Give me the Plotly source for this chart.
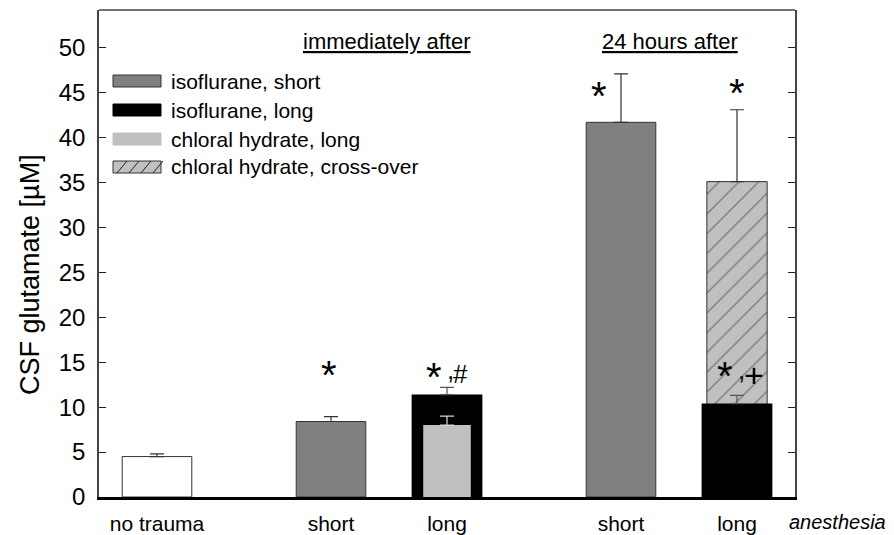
import plotly.graph_objects as go

# ---- data ----
categories = ["no trauma", "short", "long", "short", "long"]
group_labels = ["immediately after", "24 hours after"]

no_trauma_val = [4.5]
no_trauma_err = [0.3]

iso_short_cats = ["immediate short", "24h short"]
iso_short_val = [8.4, 41.7]
iso_short_err = [0.55, 5.4]

iso_long_cats = ["immediate long", "24h long"]
iso_long_val = [11.4, 10.4]
iso_long_err = [0.8, 0.9]

chl_long_cats = ["immediate long"]
chl_long_val = [8.0]
chl_long_err = [1.0]

chl_cross_cats = ["24h long"]
chl_cross_val = [35.1]
chl_cross_err = [8.0]

series_names = ["isoflurane, short", "isoflurane, long",
                "chloral hydrate, long", "chloral hydrate, cross-over"]

# ---- layout helpers (slot positions on a numeric x axis) ----
slot = {"no trauma": 0.0, "immediate short": 1.5, "immediate long": 2.5,
        "24h short": 4.0, "24h long": 5.0}
tick_slots = [0.0, 1.5, 2.5, 4.0, 5.0]

FONT = "Arial, 'Liberation Sans', Helvetica, sans-serif"
EDGE = "#333333"


def err(vals):
    return dict(type="data", symmetric=False, array=vals,
                arrayminus=[0] * len(vals), thickness=1.2, width=7)


fig = go.Figure()

fig.add_trace(go.Bar(
    x=[slot["no trauma"]], y=no_trauma_val, width=0.6,
    marker=dict(color="white", line=dict(color=EDGE, width=1)),
    error_y={**err(no_trauma_err), "color": EDGE}, showlegend=False))

fig.add_trace(go.Bar(
    x=[slot[c] for c in iso_short_cats], y=iso_short_val, width=0.6,
    name=series_names[0],
    marker=dict(color="#808080", line=dict(color=EDGE, width=1)),
    error_y={**err(iso_short_err), "color": EDGE}, showlegend=False))

fig.add_trace(go.Bar(
    x=[slot[c] for c in chl_cross_cats], y=chl_cross_val, width=0.52,
    name=series_names[3],
    marker=dict(color="#c0c0c0", line=dict(color=EDGE, width=1),
                pattern=dict(shape="/", fgcolor="#111111", bgcolor="#c0c0c0",
                             size=14, solidity=0.08)),
    error_y={**err(chl_cross_err), "color": EDGE}, showlegend=False))

fig.add_trace(go.Bar(
    x=[slot[c] for c in iso_long_cats], y=iso_long_val, width=0.61,
    name=series_names[1],
    marker=dict(color="black", line=dict(color="black", width=0)),
    error_y={**err(iso_long_err), "color": "#555555"}, showlegend=False))

fig.add_trace(go.Bar(
    x=[slot[c] for c in chl_long_cats], y=chl_long_val, width=0.41,
    name=series_names[2],
    marker=dict(color="#c0c0c0", line=dict(width=0)),
    error_y={**err(chl_long_err), "color": "#d8d8d8"}, showlegend=False))

# ---- geometry (page has an 8px body margin) ----
OFF = 8
W, H = 894 - OFF, 535 - OFF
L, R, T, B = 99 - OFF, 99, 10 - OFF, 38
pw, ph = W - L - R, H - T - B
X0, YB = L + OFF, OFF + H - B   # page px of plot left / bottom


def px(xp):
    return (xp - X0) / pw


def py(yp):
    return (YB - yp) / ph


def label(text, xp, yp, size, **kw):
    d = dict(x=px(xp), y=py(yp), xref="paper", yref="paper", text=text,
             showarrow=False, xanchor="center", yanchor="middle",
             font=dict(size=size, family=FONT, color="black"))
    d.update(kw)
    return d


shapes = []
annotations = []
leg_y = [81, 110, 139, 167]
leg_fill = ["#808080", "black", "#c0c0c0", "#c0c0c0"]
leg_line = [EDGE, "black", "#c0c0c0", EDGE]
for i, name in enumerate(series_names):
    yc = leg_y[i]
    shapes.append(dict(type="rect", xref="paper", yref="paper",
                       x0=px(113), x1=px(161), y0=py(yc - 6), y1=py(yc + 6),
                       fillcolor=leg_fill[i], line=dict(color=leg_line[i], width=1)))
    annotations.append(label(name, 169, yc, 21, xanchor="left"))
# hatch lines in the cross-over swatch
yc = leg_y[3]
for k in range(4):
    x0 = 113 + 4 + k * 12
    shapes.append(dict(type="line", xref="paper", yref="paper",
                       x0=px(x0), x1=px(x0 + 10), y0=py(yc + 6), y1=py(yc - 6),
                       line=dict(color="#222222", width=1)))

# top frame line
shapes.append(dict(type="line", xref="paper", yref="paper", x0=0, x1=1,
                   y0=1, y1=1, line=dict(color="#444444", width=1.5)))

# group headers
for txt, xc in zip(group_labels, [387, 670]):
    annotations.append(label("<u>" + txt + "</u>", xc, 42, 22))

# significance markers (asterisks and suffix symbols)
for xc, yc in [(328.5, 375), (433.5, 377), (598.5, 96), (736.5, 93), (725, 376)]:
    annotations.append(label("*", xc, yc, 40))
for txt, xc, yc, sz in [(",", 450, 370, 26), ("#", 461, 374, 26),
                        (",", 741, 369.5, 26), ("+", 754, 374.5, 34)]:
    annotations.append(label(txt, xc, yc, sz))

annotations.append(label("<i>anesthesia</i>", 838, 522, 20))

# y-axis title
annotations.append(label("CSF glutamate [µM]", 30, 275, 27, textangle=-90))

fig.update_layout(
    width=W, height=H, barmode="overlay",
    margin=dict(l=L, r=R, t=T, b=B, pad=0, autoexpand=False),
    plot_bgcolor="white", paper_bgcolor="white",
    shapes=shapes, annotations=annotations,
    font=dict(family=FONT, color="black"),
    xaxis=dict(range=[-0.5, 5.5], tickvals=tick_slots, ticktext=categories,
               showline=True, linecolor="black", linewidth=3, ticks="",
               showgrid=False, zeroline=False, ticklabelstandoff=6,
               automargin=False,
               tickfont=dict(size=21, family=FONT, color="black")),
    yaxis=dict(range=[0, 54.2], tickvals=list(range(0, 55, 5)),
               showline=True, linecolor="#444444", linewidth=1.5,
               ticks="inside", ticklen=7, tickcolor="#222222", tickwidth=1.2,
               mirror="ticks", showgrid=False, zeroline=False,
               ticklabelstandoff=7, automargin=False,
               tickfont=dict(size=24, family=FONT, color="black")),
)

fig.write_html("out.html")
